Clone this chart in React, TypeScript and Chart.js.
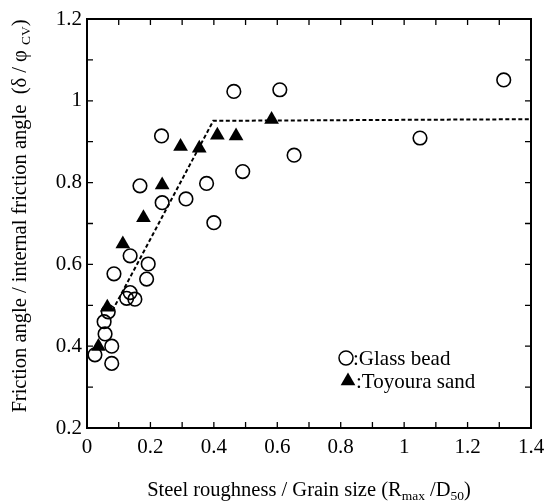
import React, { useEffect, useRef } from "react";
import { Chart, registerables } from "chart.js";

Chart.register(...registerables);

// Glass bead (open circles)
const glassX = [0.025, 0.054, 0.057, 0.078, 0.078, 0.067, 0.085, 0.125, 0.151, 0.136, 0.136, 0.167, 0.193, 0.188, 0.235, 0.237, 0.312, 0.377, 0.40, 0.463, 0.491, 0.608, 0.653, 1.05, 1.314];
const glassY = [0.379, 0.46, 0.43, 0.40, 0.358, 0.484, 0.577, 0.517, 0.515, 0.531, 0.621, 0.792, 0.601, 0.564, 0.914, 0.751, 0.76, 0.798, 0.702, 1.023, 0.827, 1.027, 0.867, 0.909, 1.051];

// Toyoura sand (filled triangles)
const sandX = [0.036, 0.064, 0.113, 0.178, 0.237, 0.295, 0.354, 0.411, 0.47, 0.582];
const sandY = [0.399, 0.495, 0.65, 0.714, 0.794, 0.888, 0.884, 0.916, 0.914, 0.954];

// Dotted trend line
const fitX = [0.08, 0.398, 1.4];
const fitY = [0.487, 0.951, 0.955];

const xTicks = [0, 0.2, 0.4, 0.6, 0.8, 1, 1.2, 1.4];
const yTicks = [0.2, 0.4, 0.6, 0.8, 1, 1.2];

const SERIF = "'Liberation Serif', 'Times New Roman', serif";

const toPts = (xs: number[], ys: number[]) => xs.map((x, i) => ({ x, y: ys[i] }));

const framePlugin = {
  id: "frameTicks",
  afterDatasetsDraw(chart: any) {
    const { ctx, chartArea: a, scales } = chart;
    const xs = scales.x;
    const ys = scales.y;
    ctx.save();
    ctx.strokeStyle = "#000";
    ctx.lineWidth = 2;
    ctx.strokeRect(a.left, a.top, a.right - a.left, a.bottom - a.top);
    ctx.lineWidth = 1.3;
    const L = 6;
    ctx.beginPath();
    for (let i = 0; i <= 14; i++) {
      const v = i / 10;
      const px = xs.getPixelForValue(v);
      ctx.moveTo(px, a.bottom);
      ctx.lineTo(px, a.bottom - L);
      ctx.moveTo(px, a.top);
      ctx.lineTo(px, a.top + L);
    }
    for (let i = 2; i <= 12; i++) {
      const v = i / 10;
      const py = ys.getPixelForValue(v);
      ctx.moveTo(a.left, py);
      ctx.lineTo(a.left + L, py);
      ctx.moveTo(a.right, py);
      ctx.lineTo(a.right - L, py);
    }
    ctx.stroke();
    ctx.restore();
  },
};

type Seg = { t: string; sub?: boolean };

function drawSegs(ctx: CanvasRenderingContext2D, segs: Seg[], size: number, subSize: number) {
  let total = 0;
  for (const s of segs) {
    ctx.font = `${s.sub ? subSize : size}px ${SERIF}`;
    total += ctx.measureText(s.t).width;
  }
  let x = -total / 2;
  for (const s of segs) {
    ctx.font = `${s.sub ? subSize : size}px ${SERIF}`;
    ctx.fillText(s.t, x, s.sub ? 5 : 0);
    x += ctx.measureText(s.t).width;
  }
}

const titlesPlugin = {
  id: "titlesLegend",
  afterDraw(chart: any) {
    const { ctx, chartArea: a } = chart;
    ctx.save();
    ctx.fillStyle = "#000";
    ctx.textBaseline = "middle";
    ctx.textAlign = "left";
    // x title
    ctx.save();
    ctx.translate((a.left + a.right) / 2, 491);
    drawSegs(ctx, [
      { t: "Steel roughness / Grain size (R" },
      { t: "max", sub: true },
      { t: " /D" },
      { t: "50", sub: true },
      { t: ")" },
    ], 20.5, 13.5);
    ctx.restore();
    // y title
    ctx.save();
    ctx.translate(21, 216);
    ctx.rotate(-Math.PI / 2);
    drawSegs(ctx, [
      { t: "Friction angle / internal friction angle  (δ / φ " },
      { t: "CV", sub: true },
      { t: ")" },
    ], 20.5, 13.5);
    ctx.restore();
    // legend
    ctx.lineWidth = 1.5;
    ctx.strokeStyle = "#000";
    ctx.beginPath();
    ctx.arc(346, 358, 7, 0, Math.PI * 2);
    ctx.stroke();
    const r = 8.5;
    ctx.beginPath();
    ctx.moveTo(348, 381 - r);
    ctx.lineTo(348 + r * 0.866, 381 + r * 0.5);
    ctx.lineTo(348 - r * 0.866, 381 + r * 0.5);
    ctx.closePath();
    ctx.fill();
    ctx.font = `21px ${SERIF}`;
    ctx.fillText(":Glass bead", 353, 359);
    ctx.fillText(":Toyoura sand", 356, 382);
    ctx.restore();
  },
};

export default function App() {
  const ref = useRef<HTMLCanvasElement | null>(null);
  useEffect(() => {
    document.body.style.margin = "0";
    const canvas = ref.current!;
    const chart = new Chart(canvas, {
      type: "scatter",
      data: {
        datasets: [
          {
            label: "Glass bead",
            data: toPts(glassX, glassY),
            pointStyle: "circle",
            pointRadius: 6.8,
            pointBorderWidth: 1.6,
            pointBorderColor: "#000",
            pointBackgroundColor: "rgba(0,0,0,0)",
            showLine: false,
            order: 2,
          },
          {
            label: "Toyoura sand",
            data: toPts(sandX, sandY),
            pointStyle: "triangle",
            pointRadius: 8.5,
            pointBorderWidth: 0,
            pointBorderColor: "#000",
            pointBackgroundColor: "#000",
            showLine: false,
            order: 1,
          },
          {
            label: "fit",
            data: toPts(fitX, fitY),
            showLine: true,
            borderColor: "#000",
            borderWidth: 2,
            borderDash: [4, 2.5],
            pointRadius: 0,
            fill: false,
            order: 3,
          },
        ],
      },
      options: {
        responsive: false,
        animation: false,
        devicePixelRatio: 1,
        layout: { padding: { top: 19, right: 13, left: 0, bottom: 0 } },
        plugins: { legend: { display: false }, tooltip: { enabled: false } },
        scales: {
          x: {
            type: "linear",
            min: 0,
            max: 1.4,
            afterFit: (s: any) => { s.height = 76; s.paddingLeft = 0; s.paddingRight = 0; },
            afterBuildTicks: (s: any) => { s.ticks = xTicks.map((v) => ({ value: v })); },
            grid: { display: false, drawTicks: false },
            border: { display: false },
            ticks: {
              padding: 7,
              color: "#000",
              font: { family: SERIF, size: 21 },
              callback: (v: any) => String(Math.round(Number(v) * 10) / 10),
            },
          },
          y: {
            type: "linear",
            min: 0.2,
            max: 1.2,
            afterFit: (s: any) => { s.width = 87; s.paddingTop = 0; s.paddingBottom = 0; },
            afterBuildTicks: (s: any) => { s.ticks = yTicks.map((v) => ({ value: v })); },
            grid: { display: false, drawTicks: false },
            border: { display: false },
            ticks: {
              padding: 5,
              color: "#000",
              font: { family: SERIF, size: 21 },
              callback: (v: any) => String(Math.round(Number(v) * 10) / 10),
            },
          },
        },
      },
      plugins: [framePlugin, titlesPlugin],
    });
    return () => chart.destroy();
  }, []);
  return (
    <div style={{ width: 544, height: 504, background: "#fff" }}>
      <canvas ref={ref} width={544} height={504} />
    </div>
  );
}
